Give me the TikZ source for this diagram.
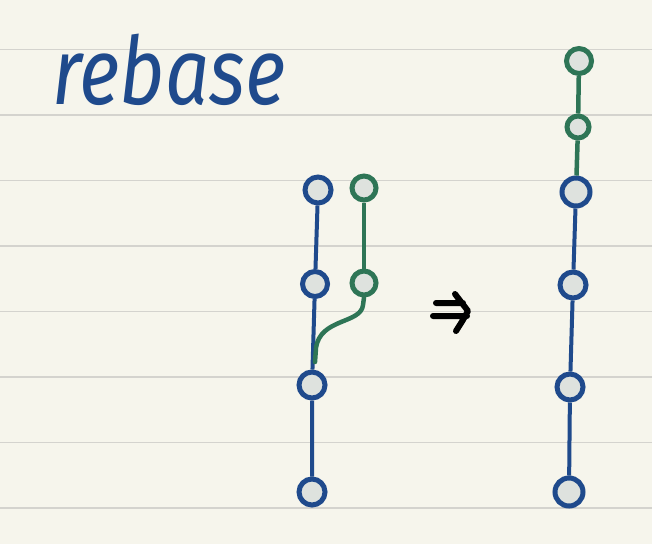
\documentclass[tikz,border=0pt]{standalone}
\usepackage{fontspec}
\setmainfont{Fira Sans}
\usetikzlibrary{positioning}
\definecolor{paper}{HTML}{F6F5EC}
\definecolor{ruleline}{HTML}{D4D3CE}
\definecolor{gitblue}{HTML}{1F4A8C}
\definecolor{gitgreen}{HTML}{2E7556}
\definecolor{nodefill}{HTML}{DEE2DE}
\tikzset{
    commit/.style={
        circle,
        fill=nodefill,
        line width=5pt,
        minimum size=26pt,
        inner sep=0pt
    },
    main/.style={
        commit,
        draw=gitblue
    },
    feature/.style={
        commit,
        draw=gitgreen
    },
    mainline/.style={
        draw=gitblue,
        line width=4pt
    },
    featureline/.style={
        draw=gitgreen,
        line width=4.5pt
    },
    ruled/.style={
        draw=ruleline,
        line width=1.8pt
    }
}

\begin{document}
\begin{tikzpicture}[x=1pt,y=-1pt]
\fill[paper] (0,0) rectangle (652,544);
\useasboundingbox (0,0) rectangle (652,544);
\foreach \y in {49.5,115,180.5,246,311.5,377,442.5,508}
  \draw[ruled] (0,\y) -- (652,\y);

\node[anchor=base west, inner sep=0pt, text=gitblue, xscale=0.83,
  font=\fontsize{94}{94}\selectfont\itshape] (title) at (52,104) {rebase};

% before
\node[main] (a1) at (312,492) {};
\node[main] (a2) at (312,385) {};
\node[main, minimum size=25pt] (a3) at (315,284) {};
\node[main] (a4) at (318,190) {};
\node[feature, minimum size=24pt] (b1) at (364,283) {};
\node[feature, minimum size=24pt] (b2) at (364,188) {};
\coordinate (fork) at (315,362);
\path[mainline]
  (a1) -- (a2)
  (a2) -- (a3)
  (a3) -- (a4);
\path[featureline]
  (b1) -- (b2);
\draw[featureline, line cap=round]
  (b1.south) -- (363,305) .. controls (361,324) and (320,318) .. (316,348) -- (fork);

% arrow
\draw[line width=6pt, line cap=round, line join=round]
  (436,303) -- (463,303)
  (433,316) -- (467,316)
  (455,294) .. controls (462,302) .. (468,311) .. controls (463,320) .. (456,331);

% after
\node[main, minimum size=28pt] (c1) at (569,492) {};
\node[main] (c2) at (570,387) {};
\node[main] (c3) at (573,285) {};
\node[main, minimum size=28pt] (c4) at (576,192) {};
\node[feature, minimum size=22pt] (d1) at (578,127) {};
\node[feature, minimum size=25pt] (d2) at (579,61) {};
\path[mainline]
  (c1) -- (c2)
  (c2) -- (c3)
  (c3) -- (c4);
\path[featureline]
  (c4) -- (d1)
  (d1) -- (d2);
\end{tikzpicture}
\end{document}
